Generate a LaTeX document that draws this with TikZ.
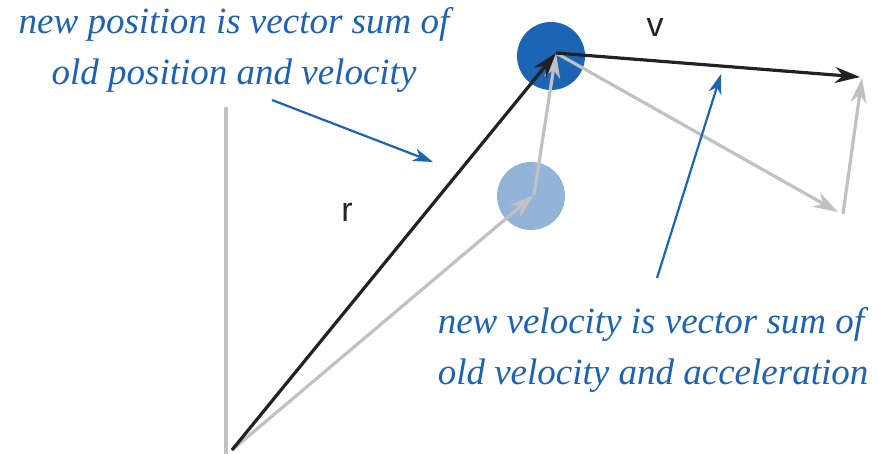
\documentclass[tikz,border=0pt]{standalone}
\usepackage{fontspec}
\setmainfont{Liberation Serif}
\setsansfont{Liberation Sans}
\usetikzlibrary{arrows.meta}
\definecolor{dkblue}{RGB}{28,100,180}
\definecolor{ltblue}{RGB}{146,180,216}
\definecolor{vgray}{RGB}{192,192,197}
\definecolor{vblack}{RGB}{34,34,34}
\definecolor{txtblue}{RGB}{30,98,178}
\tikzset{
  tip/.style={-{Stealth[length=25pt,width=16pt,inset=8pt]}},
  blackvec/.style={tip,draw=vblack,line width=3.2pt},
  grayvec/.style={tip,draw=vgray,line width=3.2pt},
  bluevec/.style={-{Stealth[length=20pt,width=13pt,inset=6pt]},draw=dkblue,line width=2.2pt},
  note/.style={text=txtblue,font=\fontsize{37}{51}\selectfont\itshape,inner sep=0pt},
  lbl/.style={text=vblack,font=\sffamily\fontsize{34}{40}\selectfont},
  ball/.style={circle,minimum size=68pt,inner sep=0pt}
}
\begin{document}
\begin{tikzpicture}[x=1pt,y=-1pt]
\useasboundingbox (0,0) rectangle (882,454);
% axis
\coordinate (axtop) at (226,107);
\coordinate (axbot) at (226,454);
\draw[vgray,line width=3.2pt] (axtop) -- (axbot);
% balls
\node[ball,fill=ltblue] (old) at (531,196) {};
\node[ball,fill=dkblue] (new) at (551,56) {};
\coordinate (O) at (232,450);
\coordinate (oldc) at (534,195);
\coordinate (newc) at (556,53);
\coordinate (vend) at (860,77);
\coordinate (aend) at (838,212);
\coordinate (astart) at (843,214);
\coordinate (atop) at (862,78);
% vectors
\draw[grayvec] (O) -- (oldc);
\draw[grayvec] (oldc) -- (newc);
\draw[grayvec] (newc) -- (aend);
\draw[grayvec] (astart) -- (atop);
\draw[blackvec] (O) -- (newc);
\draw[blackvec] (newc) -- (vend);
% labels
\node[lbl] (v) at (655,28) {v};
\node[lbl] (r) at (347,212) {r};
% notes
\node[note,align=center] (n1) at (234,50) {new position is vector sum of\\old position and velocity};
\node[note,align=left] (n2) at (653,350) {new velocity is vector sum of\\old velocity and acceleration};
\coordinate (p1s) at (272,100);
\coordinate (p1e) at (433,162);
\coordinate (p2s) at (657,278);
\coordinate (p2e) at (721,74);
\draw[bluevec] (p1s) -- (p1e);
\draw[bluevec] (p2s) -- (p2e);
\end{tikzpicture}
\end{document}
